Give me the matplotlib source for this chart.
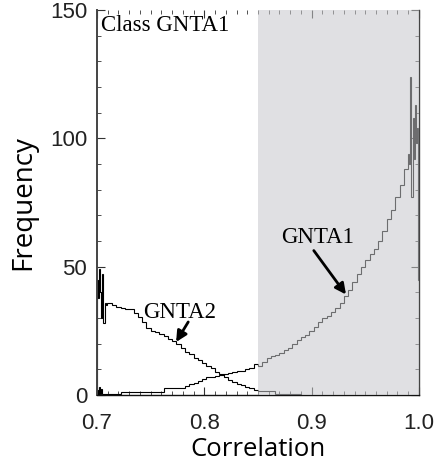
import numpy as np
import matplotlib
matplotlib.use("Agg")
import matplotlib.pyplot as plt
from matplotlib.ticker import MultipleLocator

# histogram bin edges: fine bins at both ends, 0.004 wide in between
edges = np.concatenate([
    np.linspace(0.700, 0.709, 10),
    np.linspace(0.710, 0.986, 70),
    np.linspace(0.990, 1.000, 11),
])

# GNTA2 counts (bins up to 0.890, zero beyond)
gnta2_fine = [45, 38, 49, 40, 30, 47, 28, 36, 35, 36]
gnta2_mid = [36, 35, 34.5, 34, 33.5, 33.5, 32, 30.5, 28.5, 26,
             25, 24.5, 24, 23, 22, 21, 20, 18.5, 17, 16,
             14.5, 13.5, 12.5, 11.5, 10.5, 9.2, 8.4, 7.2, 6, 5,
             4.5, 4, 3, 2.8, 2, 1.8, 1.5, 1.5, 1.5, 0.6,
             0.5, 0.4, 0.3, 0.3, 0.3]

# GNTA1 counts
gnta1_fine_lo = [2, 0, 3, 0.5, 2.5, 0.3, 0.3, 0.3, 0.3, 0.3]
gnta1_mid = [0.3, 0.3, 0.3, 1.4, 1.4, 1.4, 1.4, 1.4, 1.4, 1.4,
             1.4, 1.4, 1.4, 2.7, 2.7, 2.7, 2.7, 2.7, 3.5, 4.3,
             4.8, 5.5, 6.2, 6.9, 7.2, 7.5, 7.8, 8.3, 8.8, 9.0,
             9.3, 9.6, 10.2, 10.5, 12.0, 11.5, 13.0, 14.5, 15.2, 15.8,
             16.5, 17.5, 18.5, 20, 21.5, 22.5, 23.5, 25, 26.5, 28.5,
             30, 31, 32.5, 34, 36, 38.5, 41, 44, 47, 50,
             52.5, 55, 57, 60, 64, 68.5, 72, 77, 82, 88]
gnta1_fine_hi = [94, 90, 124, 77, 108, 92, 113, 98, 104, 45]

gnta1 = np.array(gnta1_fine_lo + gnta1_mid + gnta1_fine_hi)
gnta2 = np.array(gnta2_fine + gnta2_mid)
gnta2_edges = edges[:len(gnta2) + 1]

fig = plt.figure(figsize=(4.41, 4.71), dpi=100)
ax = fig.add_axes([0.22, 0.161, 0.73, 0.818])

ax.stairs(gnta1, edges, color="black", lw=0.8, zorder=2)
ax.stairs(gnta2, gnta2_edges, color="black", lw=0.8, zorder=2)

# translucent threshold band laid over the curves
ax.axvspan(0.85, 1.0, facecolor=(0.78, 0.786, 0.80), alpha=0.55,
           lw=0, zorder=3)

ax.set_xlim(0.7, 1.0)
ax.set_ylim(0, 150)
ax.xaxis.set_minor_locator(MultipleLocator(0.01))
ax.yaxis.set_major_locator(MultipleLocator(50))
ax.yaxis.set_minor_locator(MultipleLocator(10))
ax.set_xticks([0.7, 0.8, 0.9, 1.0])
ax.set_xticklabels(["0.7", "0.8", "0.9", "1.0"])
ax.tick_params(which="both", direction="in", top=True, right=True,
               colors="#333333", labelcolor="#222222")
ax.tick_params(which="major", length=6, width=0.8)
ax.tick_params(which="minor", length=3, width=0.6)
ax.tick_params(axis="x", which="major", pad=13)
ax.tick_params(axis="y", which="major", pad=7)
for lab in ax.get_xticklabels() + ax.get_yticklabels():
    lab.set_fontfamily("Liberation Sans")
    lab.set_fontsize(16)

for side in ["left", "right", "top", "bottom"]:
    ax.spines[side].set_color("#444444")
    ax.spines[side].set_linewidth(1.0)
ax.spines["top"].set_visible(False)
ax.spines["bottom"].set_color("#111111")
ax.spines["left"].set_linewidth(1.4)

ax.set_xlabel("Correlation", family="Open Sans", fontsize=18.5, labelpad=2)
ax.set_ylabel("Frequency", family="Open Sans", fontsize=20, labelpad=9)

serif = "Liberation Serif"
ax.text(0.012, 0.988, "Class GNTA1", transform=ax.transAxes, family=serif,
        fontsize=16.5, va="top", ha="left", zorder=5)

arrow = dict(arrowstyle="-|>", lw=2, color="black", mutation_scale=16,
             shrinkA=0, shrinkB=0)
ax.text(0.743, 30, "GNTA2", family=serif, fontsize=16.5, zorder=5)
ax.annotate("", xy=(0.7737, 20.7), xytext=(0.785, 28.5),
            arrowprops=arrow, zorder=5)
ax.text(0.872, 59.3, "GNTA1", family=serif, fontsize=16.5, zorder=5)
ax.annotate("", xy=(0.932, 39.2), xytext=(0.902, 56.3),
            arrowprops=arrow, zorder=5)

fig.savefig("out.png", dpi=100)
